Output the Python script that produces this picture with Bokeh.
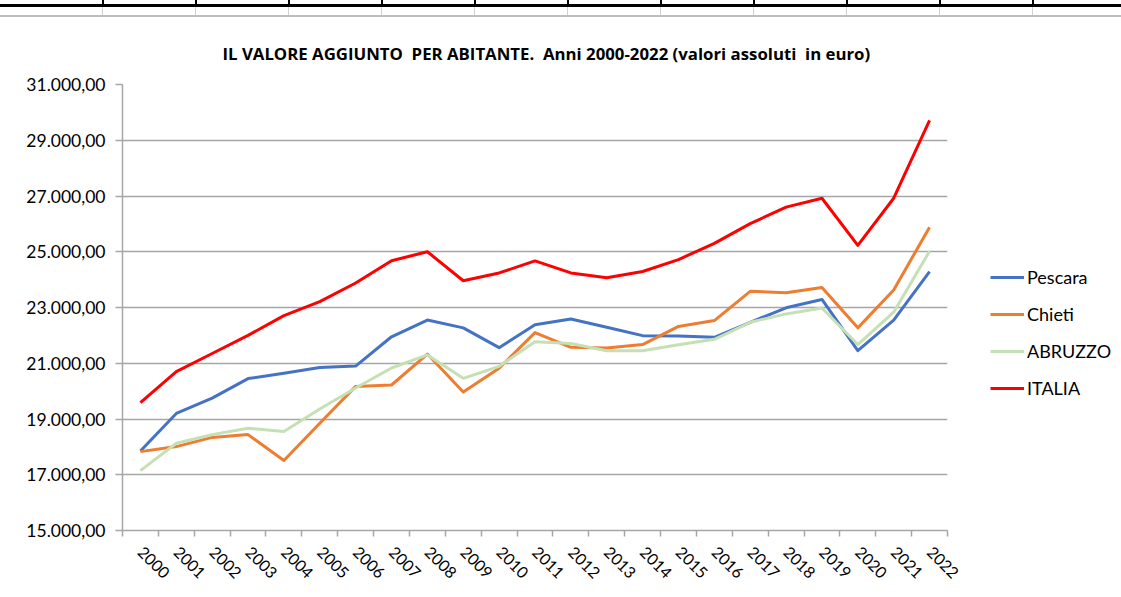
import math
from bokeh.plotting import figure
from bokeh.models import (Range1d, FixedTicker, Legend, LegendItem, ColumnDataSource, Div)
from bokeh.layouts import column
from bokeh.embed import file_html
from bokeh.resources import INLINE

# ---------------- data ----------------
years = list(range(2000, 2023))
year_labels = [str(y) for y in years]

pescara = [17850, 19200, 19750, 20450, 20640, 20850, 20900, 21950, 22550, 22270,
           21560, 22380, 22590, 22290, 21990, 21980, 21930, 22470, 22990, 23290,
           21450, 22550, 24290]
chieti = [17830, 18010, 18340, 18440, 17510, 18850, 20170, 20220, 21330, 19970,
          20820, 22100, 21570, 21550, 21670, 22320, 22530, 23580, 23530, 23720,
          22270, 23630, 25880]
abruzzo = [17150, 18130, 18440, 18670, 18550, 19360, 20110, 20830, 21300, 20460,
           20890, 21770, 21710, 21450, 21450, 21660, 21860, 22470, 22770, 22980,
           21670, 22830, 25020]
italia = [19590, 20700, 21350, 22000, 22710, 23210, 23880, 24680, 25000, 23960,
          24240, 24670, 24240, 24070, 24290, 24720, 25300, 26010, 26600, 26920,
          25230, 26920, 29710]

series_names = ["Pescara", "Chieti", "ABRUZZO", "ITALIA"]
series_values = [pescara, chieti, abruzzo, italia]
series_colors = ["#4472C4", "#ED7D31", "#C5E0B4", "#FF0000"]

y_ticks = [15000, 17000, 19000, 21000, 23000, 25000, 27000, 29000, 31000]
y_tick_labels = ["15.000,00", "17.000,00", "19.000,00", "21.000,00", "23.000,00",
                 "25.000,00", "27.000,00", "29.000,00", "31.000,00"]

title_text = "IL VALORE AGGIUNTO \u00a0PER ABITANTE. \u00a0Anni 2000-2022 (valori assoluti \u00a0in euro)"

# spreadsheet column separators visible above the chart
sheet_cols = [102, 195, 288, 381, 474, 567, 660, 753, 846, 939, 1032]

FONT = "Lato"
GRID = "#A6A6A6"
SW = 1121

# ---------------- top spreadsheet strip (decoration) ----------------
parts = ['<div style="position:relative;width:%dpx;height:17px;overflow:hidden;">' % SW,
         '<div style="position:absolute;left:0;top:4px;width:%dpx;height:3px;background:#000;"></div>' % SW]
for c in sheet_cols:
    parts.append('<div style="position:absolute;left:%dpx;top:0;width:2px;height:7px;background:#000;"></div>' % c)
    parts.append('<div style="position:absolute;left:%dpx;top:7px;width:1px;height:9px;background:#D0D0D0;"></div>' % c)
parts.append('<div style="position:absolute;left:0;top:15px;width:%dpx;height:2px;background:#BDBDBD;"></div>' % SW)
parts.append('</div>')
strip = Div(text="".join(parts), width=SW, height=17, margin=0)

# ---------------- main chart ----------------
p = figure(frame_width=825, frame_height=446,
           x_range=Range1d(1999.5, 2022.5), y_range=Range1d(15000, 31000),
           output_backend="svg", toolbar_location=None,
           min_border_left=122, min_border_right=166, min_border_top=67, min_border_bottom=59,
           outline_line_color=None)
p.background_fill_color = "white"
p.border_fill_color = "white"

p.title.text = title_text
p.title.align = "left"
p.title.offset = 100
p.title.standoff = 36
p.title.vertical_align = "top"
p.title.text_font = "Open Sans"
p.title.text_font_size = "16.8px"
p.title.text_font_style = "bold"
p.title.text_color = "#000000"

# y axis
p.yaxis.ticker = FixedTicker(ticks=y_ticks)
p.yaxis.major_label_overrides = {t: l for t, l in zip(y_ticks, y_tick_labels)}
p.yaxis.major_tick_out = 7
p.yaxis.major_tick_in = 0
p.yaxis.minor_tick_out = 0
p.yaxis.minor_tick_in = 0
p.yaxis.major_label_standoff = 10
p.yaxis.axis_line_color = GRID
p.yaxis.major_tick_line_color = GRID
p.yaxis.axis_line_width = 1.5
p.yaxis.major_tick_line_width = 1.5
p.yaxis.major_label_text_font = FONT
p.yaxis.major_label_text_font_size = "17.5px"
p.yaxis.major_label_text_color = "#000000"

# x axis: labels at category centres, ticks at category boundaries
boundaries = [y - 0.5 for y in years] + [years[-1] + 0.5]
p.xaxis.ticker = FixedTicker(ticks=years, minor_ticks=boundaries)
p.xaxis.major_label_overrides = {y: l for y, l in zip(years, year_labels)}
p.xaxis.major_tick_out = 0
p.xaxis.major_tick_in = 0
p.xaxis.minor_tick_out = 6
p.xaxis.minor_tick_in = 0
p.xaxis.minor_tick_line_color = GRID
p.xaxis.minor_tick_line_width = 1.5
p.xaxis.axis_line_color = GRID
p.xaxis.axis_line_width = 1.5
p.xaxis.major_label_orientation = -math.pi / 4
p.xaxis.major_label_standoff = 13
p.xaxis.major_label_text_font = FONT
p.xaxis.major_label_text_font_size = "16px"
p.xaxis.major_label_text_color = "#000000"

p.xgrid.visible = False
p.ygrid.ticker = FixedTicker(ticks=y_ticks)
p.ygrid.grid_line_color = GRID
p.ygrid.grid_line_width = 1.5

# lines
items = []
for name, vals, col in zip(series_names, series_values, series_colors):
    src = ColumnDataSource(dict(x=years, y=vals))
    r = p.line("x", "y", source=src, line_color=col, line_width=3, line_join="round")
    items.append(LegendItem(label=name, renderers=[r]))

legend = Legend(items=items, location=(43, 131), orientation="vertical",
                label_text_font=FONT, label_text_font_size="18px",
                label_text_color="#000000",
                glyph_width=34, glyph_height=20, label_height=20, label_standoff=3,
                spacing=15, padding=0, margin=0,
                border_line_color=None, background_fill_alpha=0)
p.add_layout(legend, "right")

layout = column(strip, p, spacing=0)

open("out.html", "w").write(file_html(layout, INLINE))
